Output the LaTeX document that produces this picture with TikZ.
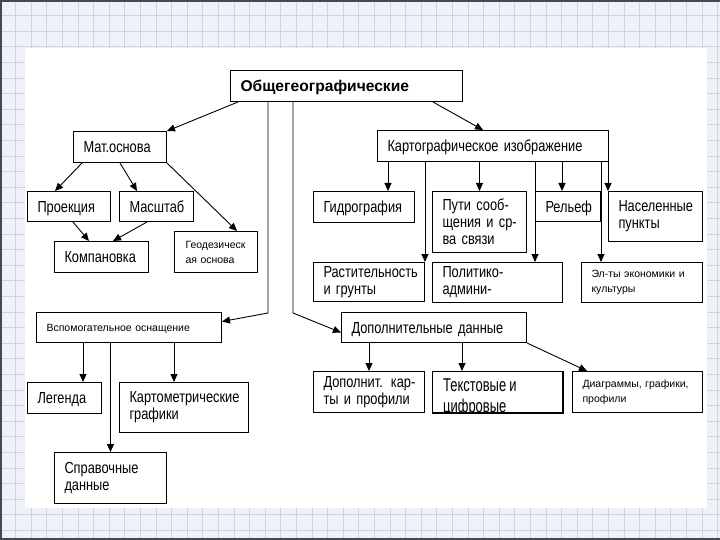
\documentclass[tikz,border=0pt]{standalone}
\usepackage{fontspec}
\setmainfont{Liberation Sans}
\newfontfamily\nf[FakeStretch=0.8,WordSpace=0.6]{Liberation Sans}
\newfontfamily\nft[FakeStretch=0.7,WordSpace=0.85]{Liberation Sans}
\newcommand\oneline[1]{\mbox{#1}}
\usetikzlibrary{arrows.meta,calc}
\definecolor{bgc}{RGB}{238,241,247}
\definecolor{gridc}{RGB}{205,210,222}
\definecolor{framec}{RGB}{70,72,80}
\begin{document}
\begin{tikzpicture}[x=1pt,y=-1pt,
  box/.style={draw=black, line width=1pt, fill=white, inner xsep=10pt, inner ysep=0pt,
    align=left, anchor=north west, font=\nf\fontsize{16}{17}\selectfont},
  one/.style={text height=11.5pt, text depth=0pt},
  small/.style={font=\fontsize{10.5}{15}\selectfont},
  smallone/.style={small, text height=7.6pt, text depth=0pt},
  arr/.style={draw=black, line width=0.9pt, -{Triangle[length=8pt,width=7pt]}}]
\useasboundingbox (0,0) rectangle (720,540);
% background grid
\fill[bgc] (0,0) rectangle (720,540);
\foreach \i in {0,...,46} \draw[gridc, line width=0.8pt] (\i*15.6,0) -- (\i*15.6,540);
\foreach \j in {0,...,35} \draw[gridc, line width=0.8pt] (0,\j*15.6) -- (720,\j*15.6);
\draw[framec, line width=2pt] (720,1) -- (1,1) -- (1,539) -- (720,539);
\fill[white] (25,48) rectangle (707,508);
% nodes
\node[box, text width=212pt, minimum height=31pt, text height=11.2pt, text depth=0pt, font=\bfseries\fontsize{15.6}{17}\selectfont] (gen) at (230,70) {Общегеографические};
\node[box, one, text width=73pt, minimum height=31pt] (mat) at (73,131) {\oneline{Мат.основа}};
\node[box, one, text width=211pt, minimum height=31pt] (kart) at (377,130) {\oneline{Картографическое изображение}};
\node[box, one, text width=63pt, minimum height=30pt] (proj) at (27,191) {\oneline{Проекция}};
\node[box, one, text width=54pt, minimum height=30pt] (masht) at (119,191) {\oneline{Масштаб}};
\node[box, one, text width=74pt, minimum height=31pt] (komp) at (54,241) {\oneline{Компановка}};
\node[box, small, text width=61pt, inner xsep=11pt, minimum height=41pt] (geod) at (174,231) {\oneline{Геодезическ}\\\oneline{ая основа}};
\node[box, one, text width=81pt, minimum height=31pt] (gidro) at (313,191) {\oneline{Гидрография}};
\node[box, text width=74pt, minimum height=61pt] (puti) at (432,191) {\oneline{Пути сооб-}\\\oneline{щения и ср-}\\\oneline{ва связи}};
\node[box, one, text width=45pt, minimum height=30pt] (relef) at (535,191) {\oneline{Рельеф}};
\node[box, text width=74pt, minimum height=50pt] (nasel) at (608,191) {\oneline{Населенные}\\\oneline{пункты}};
\node[box, text width=91pt, minimum height=39pt] (rast) at (313,262) {\oneline{Растительность}\\\oneline{и грунты}};
\node[box, text width=110pt, minimum height=40pt] (polit) at (432,262) {\oneline{Политико-}\\\oneline{админи-}};
\node[box, small, text width=101pt, minimum height=40pt] (elty) at (581,262) {\oneline{Эл-ты экономики и}\\\oneline{культуры}};
\node[box, smallone, text width=165pt, minimum height=30pt] (vspom) at (36,312) {\oneline{Вспомогательное оснащение}};
\node[box, one, text width=165pt, minimum height=30pt] (dopd) at (341,312) {\oneline{Дополнительные данные}};
\node[box, one, text width=54pt, minimum height=31pt] (legenda) at (27,382) {\oneline{Легенда}};
\node[box, text width=109pt, minimum height=50pt] (kartom) at (119,382) {\oneline{Картометрические}\\\oneline{графики}};
\node[box, text width=92pt, minimum height=51pt] (sprav) at (54,452) {\oneline{Справочные}\\\oneline{данные}};
\node[box, text width=91pt, minimum height=41pt] (dopk) at (313,371) {\oneline{Дополнит. кар-}\\\oneline{ты и профили}};
\node[box, text width=110pt, minimum height=41pt] (tekst) at (432,371) {};
\begin{scope}
  \clip (tekst.south west) rectangle (tekst.north east);
  \node[anchor=base west, inner sep=0pt, font=\nft\fontsize{18.5}{19}\selectfont] (tekstA) at (443,391) {Текстовые и};
  \node[anchor=base west, inner sep=0pt, font=\nft\fontsize{18.5}{19}\selectfont] (tekstB) at (443,412) {цифровые};
\end{scope}
\draw[black, line width=1pt] (tekst.south west) rectangle (tekst.north east);
\node[box, small, text width=110pt, minimum height=41pt] (diagr) at (572,371) {\oneline{Диаграммы, графики,}\\\oneline{профили}};
% connectors from the top box
\draw[arr] ($(gen.south west)+(8,0)$) -- (mat.north east);
\draw[arr] ($(gen.south west)+(203,0)$) -- ($(kart.north west)+(106,0)$);
\draw[arr] ($(gen.south west)+(38,0)$) -- ($(gen.south west)+(38,211)$) -- ($(vspom.east)+(0,-6)$);
\draw[arr] ($(gen.south west)+(63,0)$) -- ($(gen.south west)+(63,211)$) -- ($(dopd.west)+(0,5)$);
% math basis
\draw[arr] ($(mat.south west)+(9,0)$) -- ($(proj.north west)+(28,0)$);
\draw[arr] ($(mat.south west)+(47,0)$) -- ($(masht.north west)+(18,0)$);
\draw[arr] (mat.south east) -- ($(geod.north west)+(63,0)$);
\draw[arr] ($(proj.south west)+(46,0)$) -- ($(komp.north west)+(35,0)$);
\draw[arr] ($(masht.south west)+(28,0)$) -- ($(komp.north west)+(59,0)$);
% cartographic image
\coordinate (k1) at ($(gidro.north west)+(75,0)$);
\draw[arr] (k1 |- kart.south) -- (k1);
\draw[arr] (rast.north east |- kart.south) -- (rast.north east);
\draw[arr] (puti.north |- kart.south) -- (puti.north);
\draw[arr] (relef.north west |- kart.south) -- (relef.north west |- polit.north);
\coordinate (k2) at ($(relef.north west)+(27,0)$);
\draw[arr] (k2 |- kart.south) -- (k2);
\draw[arr] (relef.north east |- kart.south) -- (relef.north east |- elty.north);
\draw[arr] (nasel.north west |- kart.south) -- (nasel.north west);
% auxiliary
\coordinate (v1) at ($(legenda.north west)+(56,0)$);
\draw[arr] (v1 |- vspom.south) -- (v1);
\draw[arr] (sprav.north |- vspom.south) -- (sprav.north);
\coordinate (v2) at ($(kartom.north west)+(55,0)$);
\draw[arr] (v2 |- vspom.south) -- (v2);
% additional data
\draw[arr] (dopk.north |- dopd.south) -- (dopk.north);
\coordinate (d1) at ($(tekst.north west)+(30,0)$);
\draw[arr] (d1 |- dopd.south) -- (d1);
\draw[arr] (dopd.south east) -- ($(diagr.north west)+(15,0)$);
\end{tikzpicture}
\end{document}
